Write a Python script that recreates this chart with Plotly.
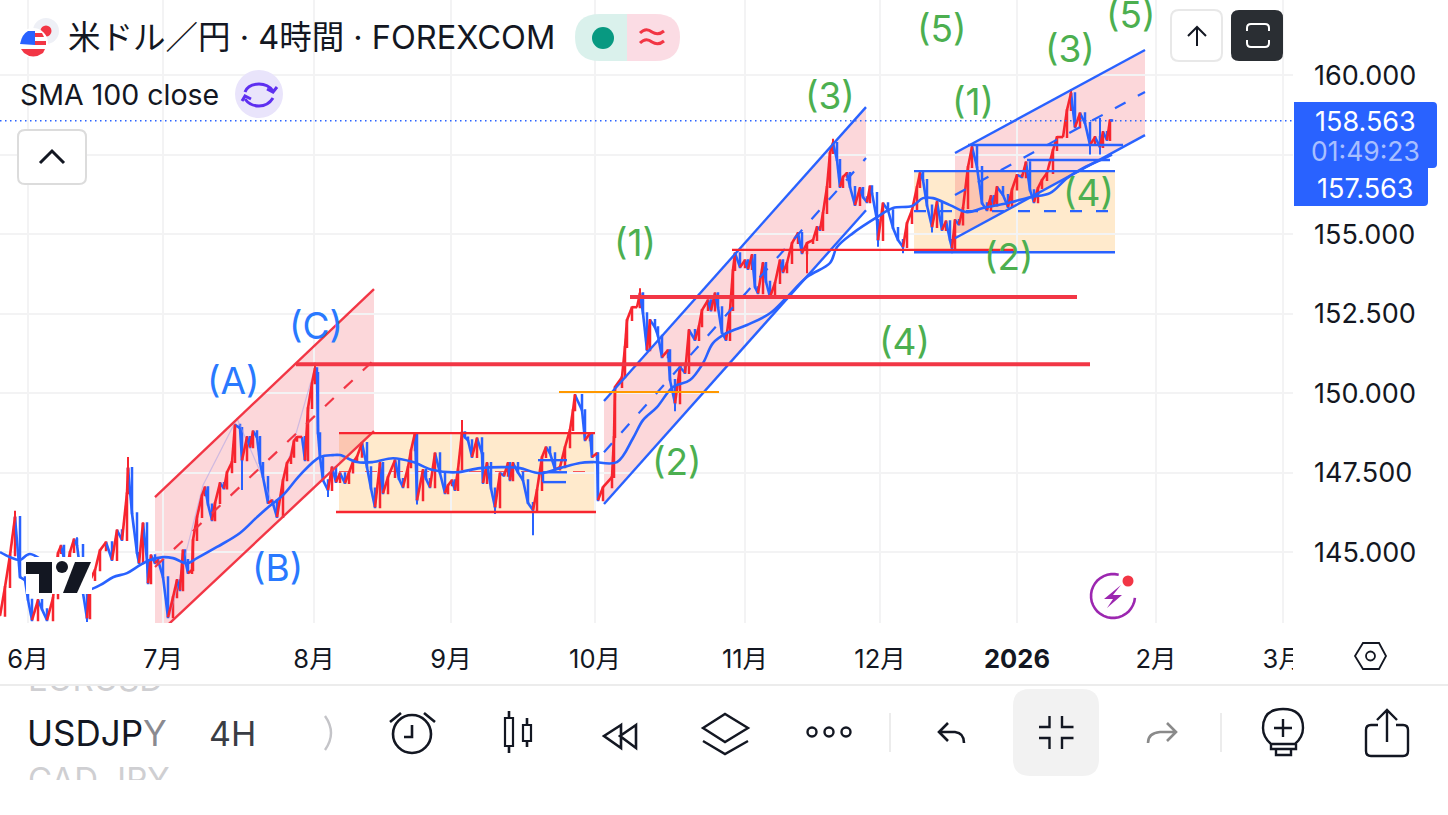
import math
import plotly.graph_objects as go

# ---------- data: time-scale position (ordinal session axis) and closing prices ----------
pos_june = [0,5,10,15,20,25,32,38,47,53,58,64,70,77,83,87,90,95,100,106,112,117,122,127,128,132,137,139,143,147,148]
close_june = [143.0,143.9,144.9,146.1,144.21,144.12,142.86,143.49,142.86,143.55,144.97,144.8,145.0,145.22,143.71,142.92,144.12,144.43,145.06,145.31,144.75,145.69,145.38,146.85,147.64,146.22,144.97,144.65,145.91,144.75,144.02]
pos_abc = [155,158,163,168,173,177,180,183,185,188,192,193,197,202,205,212,215,220,227,232,235,240,242,247,257,260,263,268,272,277,283,287,297,302,305,308,312,315,317,318,320,323,328,332,340,345]
close_abc = [144.65,144.75,144.21,142.95,143.58,144.12,143.8,145.06,144.75,144.34,144.43,145.38,146.1,146.79,147.04,146.0,146.54,147.17,147.51,147.83,149.0,148.9,147.89,148.62,148.62,147.8,147.36,146.54,146.63,146.1,147.26,147.8,148.62,148.62,147.89,149.53,150.31,150.78,150.63,148.74,147.99,147.26,146.95,147.67,147.48,147.17]
pos_range = [353,362,367,375,380,383,388,395,403,408,415,417,423,430,435,440,445,452,455,462,468,472,477,482,483,487,495,500,508,510,513,523,528,533,537,542,550,560,565,570,573,575,582,585,590,592,597,598,603,612]
close_range = [147.83,148.43,147.67,146.41,147.8,146.85,147.36,147.89,147.04,147.67,148.74,146.63,147.58,147.04,148.11,147.48,146.85,147.26,146.95,148.77,148.52,147.99,148.58,148.11,147.17,147.8,146.41,147.48,147.8,147.26,147.8,147.26,146.54,146.32,146.95,147.99,148.11,147.67,148.3,148.84,149.46,149.94,149.46,148.52,148.74,147.99,148.11,146.63,147.04,147.36]
pos_rally = [614,615,622,625,627,632,637,640,643,647,650,655,662,668,670,675,680,685,689,695,702,708,715,718,722,726,730,733,735,740,745,752,755,758,763,770,775,780,787,792,798,802,807,813,817,820,823,827,830,833,837,840,847,850,855,860,863,872,877,878,883,888,893,898,903,907,912,917,920,923,932,937,942,950,952]
close_rally = [148.62,150.19,150.5,151.45,152.3,152.7,152.7,153.14,152.51,151.35,152.3,152.07,151.13,151.35,150.41,149.68,150.82,150.63,151.98,151.67,152.61,152.92,153.14,152.7,151.89,151.67,152.61,153.87,154.4,153.96,154.18,154.34,153.33,153.14,154.09,153.02,153.46,154.18,154.09,154.72,155.03,154.4,154.72,154.81,155.22,155.13,155.66,156.48,157.55,157.86,157.33,156.48,156.92,156.48,155.91,156.45,156.16,156.29,155.44,154.81,155.97,155.75,155.19,154.81,154.59,155.35,155.75,156.48,156.92,156.7,155.22,156.01,155.13,154.81,154.56]
pos_last = [955,963,968,972,977,982,987,997,1003,1008,1017,1022,1026,1030,1038,1047,1053,1057,1063,1067,1071,1075,1080,1085,1090,1095,1100,1103,1107,1110,1112]
close_last = [155.44,155.82,157.11,157.74,157.11,155.97,155.75,156.48,156.23,155.85,156.86,156.79,157.26,156.38,156.45,156.92,157.64,158.05,158.05,158.9,159.43,158.36,158.8,158.49,157.8,158.05,157.74,158.21,157.96,158.58,158.56]
# further swings read between the main pivots
extra_pos = [28,42,61,67,74,151,208,224,250,253,291,294,336,349,357,371,399,411,426,448,458,465,491,504,518,546,555,658,699,711,748,766,783,843,867,870,927,946,959,991,994,1012,1034,1042]
extra_close = [143.5,143.2,145.2,144.5,145.4,144.9,146.5,147.0,148.3,148.8,148.0,148.5,147.2,147.5,148.0,147.0,147.3,148.2,147.3,147.1,147.6,148.6,147.0,147.4,147.5,148.3,147.6,151.8,152.1,152.6,153.9,153.5,153.8,156.8,156.0,156.5,155.9,155.4,155.3,156.2,155.9,156.4,156.0,156.7]
high_spikes = {15:146.3,77:145.47,128:147.99,315:150.95,462:149.15,640:153.3,833:158.0,1071:159.55,1100:158.65}
low_spikes = {87:142.8,242:146.95,328:146.73,417:146.5,495:146.2,533:145.53,675:149.43,807:153.77,878:154.6,903:154.4,932:155.05,952:154.4,1090:157.5,1100:157.5}

sma_pos = [0,10,20,30,83,100,113,127,140,150,163,173,187,197,217,240,257,267,283,300,320,333,340,357,373,393,413,433,457,480,507,520,540,560,580,593,617,633,643,657,673,690,703,713,727,747,770,787,807,830,837,853,877,893,912,923,933,950,967,983,1007,1030,1050,1067,1083,1107,1112]
sma_val = [145.0,144.84,144.75,144.94,143.8,143.96,144.21,144.34,144.59,144.75,144.84,144.81,144.65,144.81,145.16,145.6,146.1,146.38,146.79,147.42,147.99,148.05,148.05,147.83,147.83,147.95,147.83,147.58,147.51,147.64,147.67,147.64,147.48,147.64,147.8,147.83,147.83,148.58,149.15,149.56,150.19,150.41,150.94,151.57,151.89,152.14,152.51,153.02,153.65,154.09,154.59,155.03,155.53,155.82,155.88,156.13,156.13,155.91,155.69,155.82,155.97,156.16,156.29,156.76,157.07,157.42,157.5]
zigzag_pos = [170,203,237,262,277,283,314]
zigzag_price = [143.0,147.1,149.2,147.4,146.1,147.3,150.7]

month_pos = [28,163,314,451,595,745,880,1017,1156,1283]
month_labels = ["6月","7月","8月","9月","10月","11月","12月","<b>2026</b>","2月","3月"]
price_ticks = [145,147.5,150,152.5,155,157.5,160]
current_price = 158.563

# wave labels
wave_text = ["(C)","(A)","(B)","(1)","(2)","(3)","(4)","(5)","(1)","(2)","(3)","(4)","(5)"]
wave_pos = [316,233,277,635,677,830,904,941,973,1009,1070,1088,1130]
wave_price = [152.11,150.41,144.53,154.72,147.86,159.37,151.63,161.45,159.18,154.28,160.85,156.32,161.89]
wave_color = ["#2979ff"]*3 + ["#4caf50"]*10

# drawings: [x0, x1, upper0, upper1, lower0, lower1, mid0, mid1]
channel_abc = [155,374,146.73,153.27,142.33,148.8,144.53,151.04]
channel_rally = [604,866,149.75,158.99,146.51,155.75,148.14,157.39]
channel_last = [955,1145,157.55,160.79,154.87,158.11,156.23,159.47]

RED = "#f7252f"; DRAW_RED = "#f23645"; BLUE = "#2962ff"
FONT = "Inter, 'Noto Sans CJK JP', sans-serif"
INK = "#131722"

assert len(extra_pos) == len(extra_close)
merged = sorted(zip(pos_june + pos_abc + pos_range + pos_rally + pos_last + extra_pos,
                    close_june + close_abc + close_range + close_rally + close_last + extra_close))
pos = [m[0] for m in merged]
close = [m[1] for m in merged]
open_ = [close[0]] + close[:-1]
high = [max(o, c, high_spikes.get(p, 0)) for o, c, p in zip(open_, close, pos)]
low = [min(o, c, low_spikes.get(p, 999)) for o, c, p in zip(open_, close, pos)]

up_x, up_y, dn_x, dn_y = [], [], [], []
for i in range(1, len(pos)):
    tx, ty = (up_x, up_y) if close[i] >= close[i-1] else (dn_x, dn_y)
    tx += [pos[i-1], pos[i], None]
    ty += [close[i-1], close[i], None]

fig = go.Figure()
fig.add_trace(go.Scatter(x=zigzag_pos, y=zigzag_price, mode="lines", line=dict(color="rgba(170,160,230,0.55)", width=1.2), hoverinfo="skip", showlegend=False))
fig.add_trace(go.Scatter(x=dn_x, y=dn_y, mode="lines", line=dict(color=BLUE, width=2.6), hoverinfo="skip", showlegend=False))
fig.add_trace(go.Scatter(x=up_x, y=up_y, mode="lines", line=dict(color=RED, width=2.6), hoverinfo="skip", showlegend=False))
fig.add_trace(go.Candlestick(x=pos, open=open_, high=high, low=low, close=close,
    increasing=dict(line=dict(color=RED, width=2), fillcolor=RED),
    decreasing=dict(line=dict(color=BLUE, width=2), fillcolor=BLUE),
    whiskerwidth=0, hoverinfo="skip", showlegend=False))
fig.add_trace(go.Scatter(x=sma_pos, y=sma_val, mode="lines", line=dict(color=BLUE, width=2.6, shape="spline"), hoverinfo="skip", showlegend=False))
# overlay frame (pixel-like frame for interface furniture)
fig.add_trace(go.Scatter(x=[0], y=[0], xaxis="x2", yaxis="y2", mode="markers", marker=dict(opacity=0), hoverinfo="skip", showlegend=False))
# clipped ticker wheel
fig.add_trace(go.Scatter(x=[28,28], y=[683,783], text=["EURUSD","CAD JPY"], xaxis="x3", yaxis="y3", mode="text",
    textposition="middle right", textfont=dict(family=FONT, size=33, color="#cfcfd2"), hoverinfo="skip", showlegend=False, cliponaxis=True))

shapes = []
def data_line(x0, y0, x1, y1, color, width=2.4, dash="solid", layer="above"):
    shapes.append(dict(type="line", xref="x", yref="y", x0=x0, y0=y0, x1=x1, y1=y1, layer=layer, line=dict(color=color, width=width, dash=dash)))
def data_rect(x0, y0, x1, y1, fill):
    shapes.append(dict(type="rect", xref="x", yref="y", x0=x0, y0=y0, x1=x1, y1=y1, layer="below", fillcolor=fill, line=dict(width=0)))
def channel(c, color):
    x0, x1, u0, u1, l0, l1, m0, m1 = c
    shapes.append(dict(type="path", xref="x", yref="y", layer="below", line=dict(width=0), fillcolor="rgba(242,54,69,0.2)",
                       path=f"M {x0} {u0} L {x1} {u1} L {x1} {l1} L {x0} {l0} Z"))
    data_line(x0, u0, x1, u1, color)
    data_line(x0, l0, x1, l1, color)
    data_line(x0, m0, x1, m1, color, 2.2, "12px,14px")

PINK_ORANGE = "rgba(255,152,0,0.2)"
data_rect(339, 146.26, 595, 148.74, PINK_ORANGE)
data_rect(914, 154.43, 1115, 156.98, PINK_ORANGE)
channel(channel_abc, DRAW_RED)
channel(channel_rally, BLUE)
channel(channel_last, BLUE)
data_line(339, 148.74, 595, 148.74, "#f7252f")
data_line(336, 146.26, 596, 146.26, "#f7252f")
data_line(339, 147.51, 595, 147.51, "#f7252f", 2.2, "12px,14px", "below")
data_line(538, 147.89, 567, 147.89, BLUE)
data_line(543, 147.51, 567, 147.51, BLUE)
data_line(543, 147.2, 566, 147.2, BLUE)
data_line(543, 147.51, 543, 147.2, BLUE)
data_line(296, 150.91, 1090, 150.91, DRAW_RED, 4)
data_line(630, 153.02, 1077, 153.02, DRAW_RED, 4)
data_line(559, 150.03, 719, 150.03, "#ff9800", 2)
data_line(732, 154.5, 1015, 154.5, "#f7252f", 2.2)
data_line(914, 156.98, 1115, 156.98, BLUE)
data_line(914, 154.43, 1115, 154.43, BLUE)
data_line(914, 155.72, 1115, 155.72, BLUE, 2.2, "12px,14px")
data_line(968, 157.8, 1123, 157.8, BLUE)
data_line(1027, 157.33, 1110, 157.33, BLUE)
data_line(0, current_price, 1293, current_price, BLUE, 1.5, "1.5px,3.5px")

# ---------- interface furniture in the overlay frame ----------
def ui_path(p, fill=None, color=None, width=2):
    s = dict(type="path", xref="x2", yref="y2", layer="above", path=p, line=dict(color=color, width=width) if color else dict(width=0))
    if fill: s["fillcolor"] = fill
    shapes.append(s)
def rrect(x0, y0, x1, y1, r):
    return (f"M {x0+r} {y0} L {x1-r} {y0} Q {x1} {y0} {x1} {y0+r} L {x1} {y1-r} Q {x1} {y1} {x1-r} {y1} "
            f"L {x0+r} {y1} Q {x0} {y1} {x0} {y1-r} L {x0} {y0+r} Q {x0} {y0} {x0+r} {y0} Z")
def circ(cx, cy, r, fill=None, color=None, width=2):
    s = dict(type="circle", xref="x2", yref="y2", layer="above", x0=cx-r, x1=cx+r, y0=cy-r, y1=cy+r,
             line=dict(color=color, width=width) if color else dict(width=0))
    if fill: s["fillcolor"] = fill
    shapes.append(s)
def ui_rect(x0, y0, x1, y1, fill):
    shapes.append(dict(type="rect", xref="x2", yref="y2", layer="above", x0=x0, x1=x1, y0=y0, y1=y1, fillcolor=fill, line=dict(width=0)))

# clip of "3月" and the area right of it, watermark
ui_rect(1293, 624, 1448, 684, "white")
ui_rect(26, 557, 92, 594, "white")
ui_path("M 26 562 L 52 562 L 52 593 L 39 593 L 39 574 L 26 574 Z", fill="#131722")
circ(62, 567, 6, fill="#131722")
ui_path("M 75 562 L 91 562 L 77 593 L 63 593 Z", fill="#131722")

# flag
circ(46, 31, 13, fill="#eef0f6")
circ(46, 31, 5.5, fill="#f23645")
circ(33, 43, 15, fill="white")
circ(33, 43, 13, fill="white")
ui_path("M 24 53 Q 33 60 43 53 L 45 49 L 21 49 Z", fill="#f23645")
ui_path("M 35 33 L 42 33 L 44 37 L 35 37 Z", fill="#f23645")
ui_path("M 35 41 L 46 41 L 46 45 L 35 45 Z", fill="#f23645")
ui_path("M 35 31 L 28 31 Q 22 34 20 44 L 35 45 Z", fill="#2962ff")
# pills
ui_path("M 627 14 L 600 14 Q 575 14 575 37 Q 575 61 600 61 L 627 61 Z", fill="#daf1ec")
ui_path("M 627 14 L 655 14 Q 680 14 680 37 Q 680 61 655 61 L 627 61 Z", fill="#fbdce4")
circ(603, 38, 11, fill="#089981")
ui_path("M 640 33 Q 646 27 652 32 Q 658 36 664 31", color="#f23645", width=3)
ui_path("M 640 43 Q 646 37 652 42 Q 658 46 664 41", color="#f23645", width=3)
# indicator icon
circ(259, 94, 24, fill="#e9e4fb")
ui_path("M 245 92 Q 248 84 259 84 Q 268 84 273 91", color="#5e2ff0", width=3)
ui_path("M 277 87 L 273 92 L 267 89", color="#5e2ff0", width=3)
ui_path("M 273 98 Q 268 106 259 106 Q 250 106 245 99", color="#5e2ff0", width=3)
ui_path("M 242 101 L 245 96 L 251 99", color="#5e2ff0", width=3)
# chevron button
ui_path(rrect(18, 130, 86, 184, 7), fill="white", color="#dcdcdc", width=2)
ui_path("M 40 163 L 52 151 L 64 163", color=INK, width=3)
# arrow + fullscreen buttons
ui_path(rrect(1171, 10, 1222, 61, 8), fill="white", color="#e8e8e8", width=2)
ui_path("M 1197 46 L 1197 27 M 1188 36 L 1197 27 L 1206 36", color=INK, width=2)
ui_path(rrect(1231, 10, 1283, 61, 8), fill="#2a2e33")
ui_path("M 1247 31 L 1247 28 Q 1247 24 1251 24 L 1265 24 Q 1269 24 1269 28 L 1269 31 M 1269 40 L 1269 43 Q 1269 47 1265 47 L 1251 47 Q 1247 47 1247 43 L 1247 40", color="white", width=2)
# price labels
ui_path("M 1294 102 L 1433 102 Q 1437 102 1437 106 L 1437 164 Q 1437 168 1433 168 L 1428 168 L 1428 202 Q 1428 206 1424 206 L 1294 206 Z", fill="#2962ff")
# lightning badge
ring = [(1113 + 22*math.cos(math.radians(a)), 596 - 22*math.sin(math.radians(a))) for a in range(75, 361, 10)]
ui_path("M " + " L ".join(f"{x:.1f} {y:.1f}" for x, y in ring), color="#9c27b0", width=2.6)
ui_path("M 1121 585 L 1104 599 L 1113 599 L 1107 608 L 1122 595 L 1113 595 Z", fill="#9c27b0")
circ(1128, 581, 5.5, fill="#f23645")
# settings hexagon
ui_path("M 1355 656 L 1363 643 L 1379 643 L 1386 656 L 1379 669 L 1363 669 Z", color=INK, width=1.8)
circ(1370.5, 656, 4.5, color=INK, width=1.8)
# separator
shapes.append(dict(type="line", xref="x2", yref="y2", layer="above", x0=0, x1=1448, y0=685, y1=685, line=dict(color="#e6e6e6", width=1.5)))
# toolbar icons
circ(412, 734, 19, color=INK, width=2.6)
ui_path("M 412 725 L 412 737 L 404 737 M 390 722 L 401 713 M 424 713 L 435 722", color=INK, width=2.6)
ui_path("M 509 711 L 509 718 M 509 746 L 509 753 M 527 718 L 527 725 M 527 741 L 527 747", color=INK, width=2.6)
ui_path("M 505 718 L 513 718 L 513 746 L 505 746 Z", color=INK, width=2.2)
ui_path("M 523 725 L 531 725 L 531 741 L 523 741 Z", color=INK, width=2.2)
ui_path("M 621 725 L 604 736 L 621 748 Z M 636 725 L 620 736 L 636 748 Z", color=INK, width=2.6)
ui_path("M 703 728 L 725 714 L 748 728 L 725 742 Z M 703 741 L 725 754 L 748 741", color=INK, width=2.4)
for cx in (812, 829, 846):
    circ(cx, 732, 4.5, color=INK, width=2.4)
shapes.append(dict(type="line", xref="x2", yref="y2", layer="above", x0=890, x1=890, y0=713, y1=752, line=dict(color="#e6e6e6", width=1.5)))
shapes.append(dict(type="line", xref="x2", yref="y2", layer="above", x0=1221, x1=1221, y0=713, y1=752, line=dict(color="#e6e6e6", width=1.5)))
ui_path("M 948 723 L 939 732 L 948 741 M 939 732 L 955 732 Q 964 733 964 743", color=INK, width=2.6)
ui_path(rrect(1013, 689, 1099, 776, 17), fill="#f2f2f2")
ui_path("M 1049.5 716 L 1049.5 727 L 1039 727 M 1062 716 L 1062 727 L 1073.5 727 M 1039 738 L 1049.5 738 L 1049.5 749 M 1073.5 738 L 1062 738 L 1062 749", color=INK, width=2.4)
ui_path("M 1167 723 L 1176 732 L 1167 741 M 1176 732 L 1160 732 Q 1148 733 1148 743", color="#8a8a8a", width=2.6)
ui_path("M 1271 744 Q 1263 737 1263 728 Q 1263 709 1283 709 Q 1303 709 1303 728 Q 1303 737 1295 744 Z M 1271 744 L 1271 749 L 1296 749 L 1296 744 M 1276 749 L 1276 755 L 1291 755 L 1291 749 M 1283 719 L 1283 737 M 1274 728 L 1292 728", color=INK, width=2.4)
ui_path("M 1378 725 L 1371 725 Q 1366 725 1366 730 L 1366 751 Q 1366 756 1371 756 L 1403 756 Q 1408 756 1408 751 L 1408 730 Q 1408 725 1403 725 L 1396 725 M 1387 742 L 1387 710 M 1377 720 L 1387 710 L 1397 720", color=INK, width=2.4)
ui_path("M 325 716 Q 337 733 325 750", color="#c4c4c8", width=2.4)

# ---------- texts ----------
ann = []
def ui_text(x, y, t, size, color=INK, anchor="left"):
    ann.append(dict(xref="x2", yref="y2", x=x, y=y, text=t, showarrow=False, xanchor=anchor, yanchor="middle",
                    font=dict(family=FONT, size=size, color=color)))
ui_text(66, 37, "米ドル／円 · 4時間 · FOREXCOM", 32.5)
ui_text(18, 94, "SMA 100 close", 28.5)
ui_text(1365, 121, f"{current_price:.3f}", 27, "white", "center")
ui_text(1365, 151, "01:49:23", 26.5, "rgba(255,255,255,0.6)", "center")
ui_text(1365, 188, "157.563", 27, "white", "center")
ui_text(25, 733, 'USDJP<span style="color:#8a8a90">Y</span>', 35)
ui_text(207, 733, "4H", 34, "#3a3d44")
for t, x, y, c in zip(wave_text, wave_pos, wave_price, wave_color):
    ann.append(dict(xref="x", yref="y", x=x, y=y, text=t, showarrow=False, xanchor="center", yanchor="middle",
                    font=dict(family=FONT, size=37, color=c)))

GRID = "#f3f3f4"
fig.update_layout(
    width=1448, height=815, margin=dict(l=0, r=0, t=0, b=0, autoexpand=False), paper_bgcolor="white", plot_bgcolor="rgba(0,0,0,0)",
    showlegend=False, hovermode=False, shapes=shapes, annotations=ann,
    xaxis=dict(domain=[0, 1293/1448], range=[0, 1293], type="linear", tickvals=month_pos, ticktext=month_labels,
               showgrid=True, gridcolor=GRID, gridwidth=2, zeroline=False, showline=False, ticks="",
               tickfont=dict(family=FONT, size=25.5, color=INK), ticklabelstandoff=18, rangeslider=dict(visible=False), fixedrange=True),
    yaxis=dict(domain=[(815-623)/815, 1], range=[142.77, 162.36], side="right", tickvals=price_ticks, tickformat=".3f",
               showgrid=True, gridcolor=GRID, gridwidth=2, zeroline=False, showline=False, ticks="",
               tickfont=dict(family=FONT, size=27, color=INK), ticklabelstandoff=20, fixedrange=True),
    xaxis2=dict(domain=[0, 1], range=[0, 1448], visible=False, anchor="y2", fixedrange=True),
    yaxis2=dict(domain=[0, 1], range=[815, 0], visible=False, anchor="x2", fixedrange=True),
    xaxis3=dict(domain=[0, 200/1448], range=[0, 200], visible=False, anchor="y3", fixedrange=True),
    yaxis3=dict(domain=[(815-780)/815, (815-686)/815], range=[780, 686], visible=False, anchor="x3", fixedrange=True),
)
fig.write_html("out.html", config=dict(displayModeBar=False),
               post_script="document.body.style.margin='0';document.body.style.overflow='hidden';")
